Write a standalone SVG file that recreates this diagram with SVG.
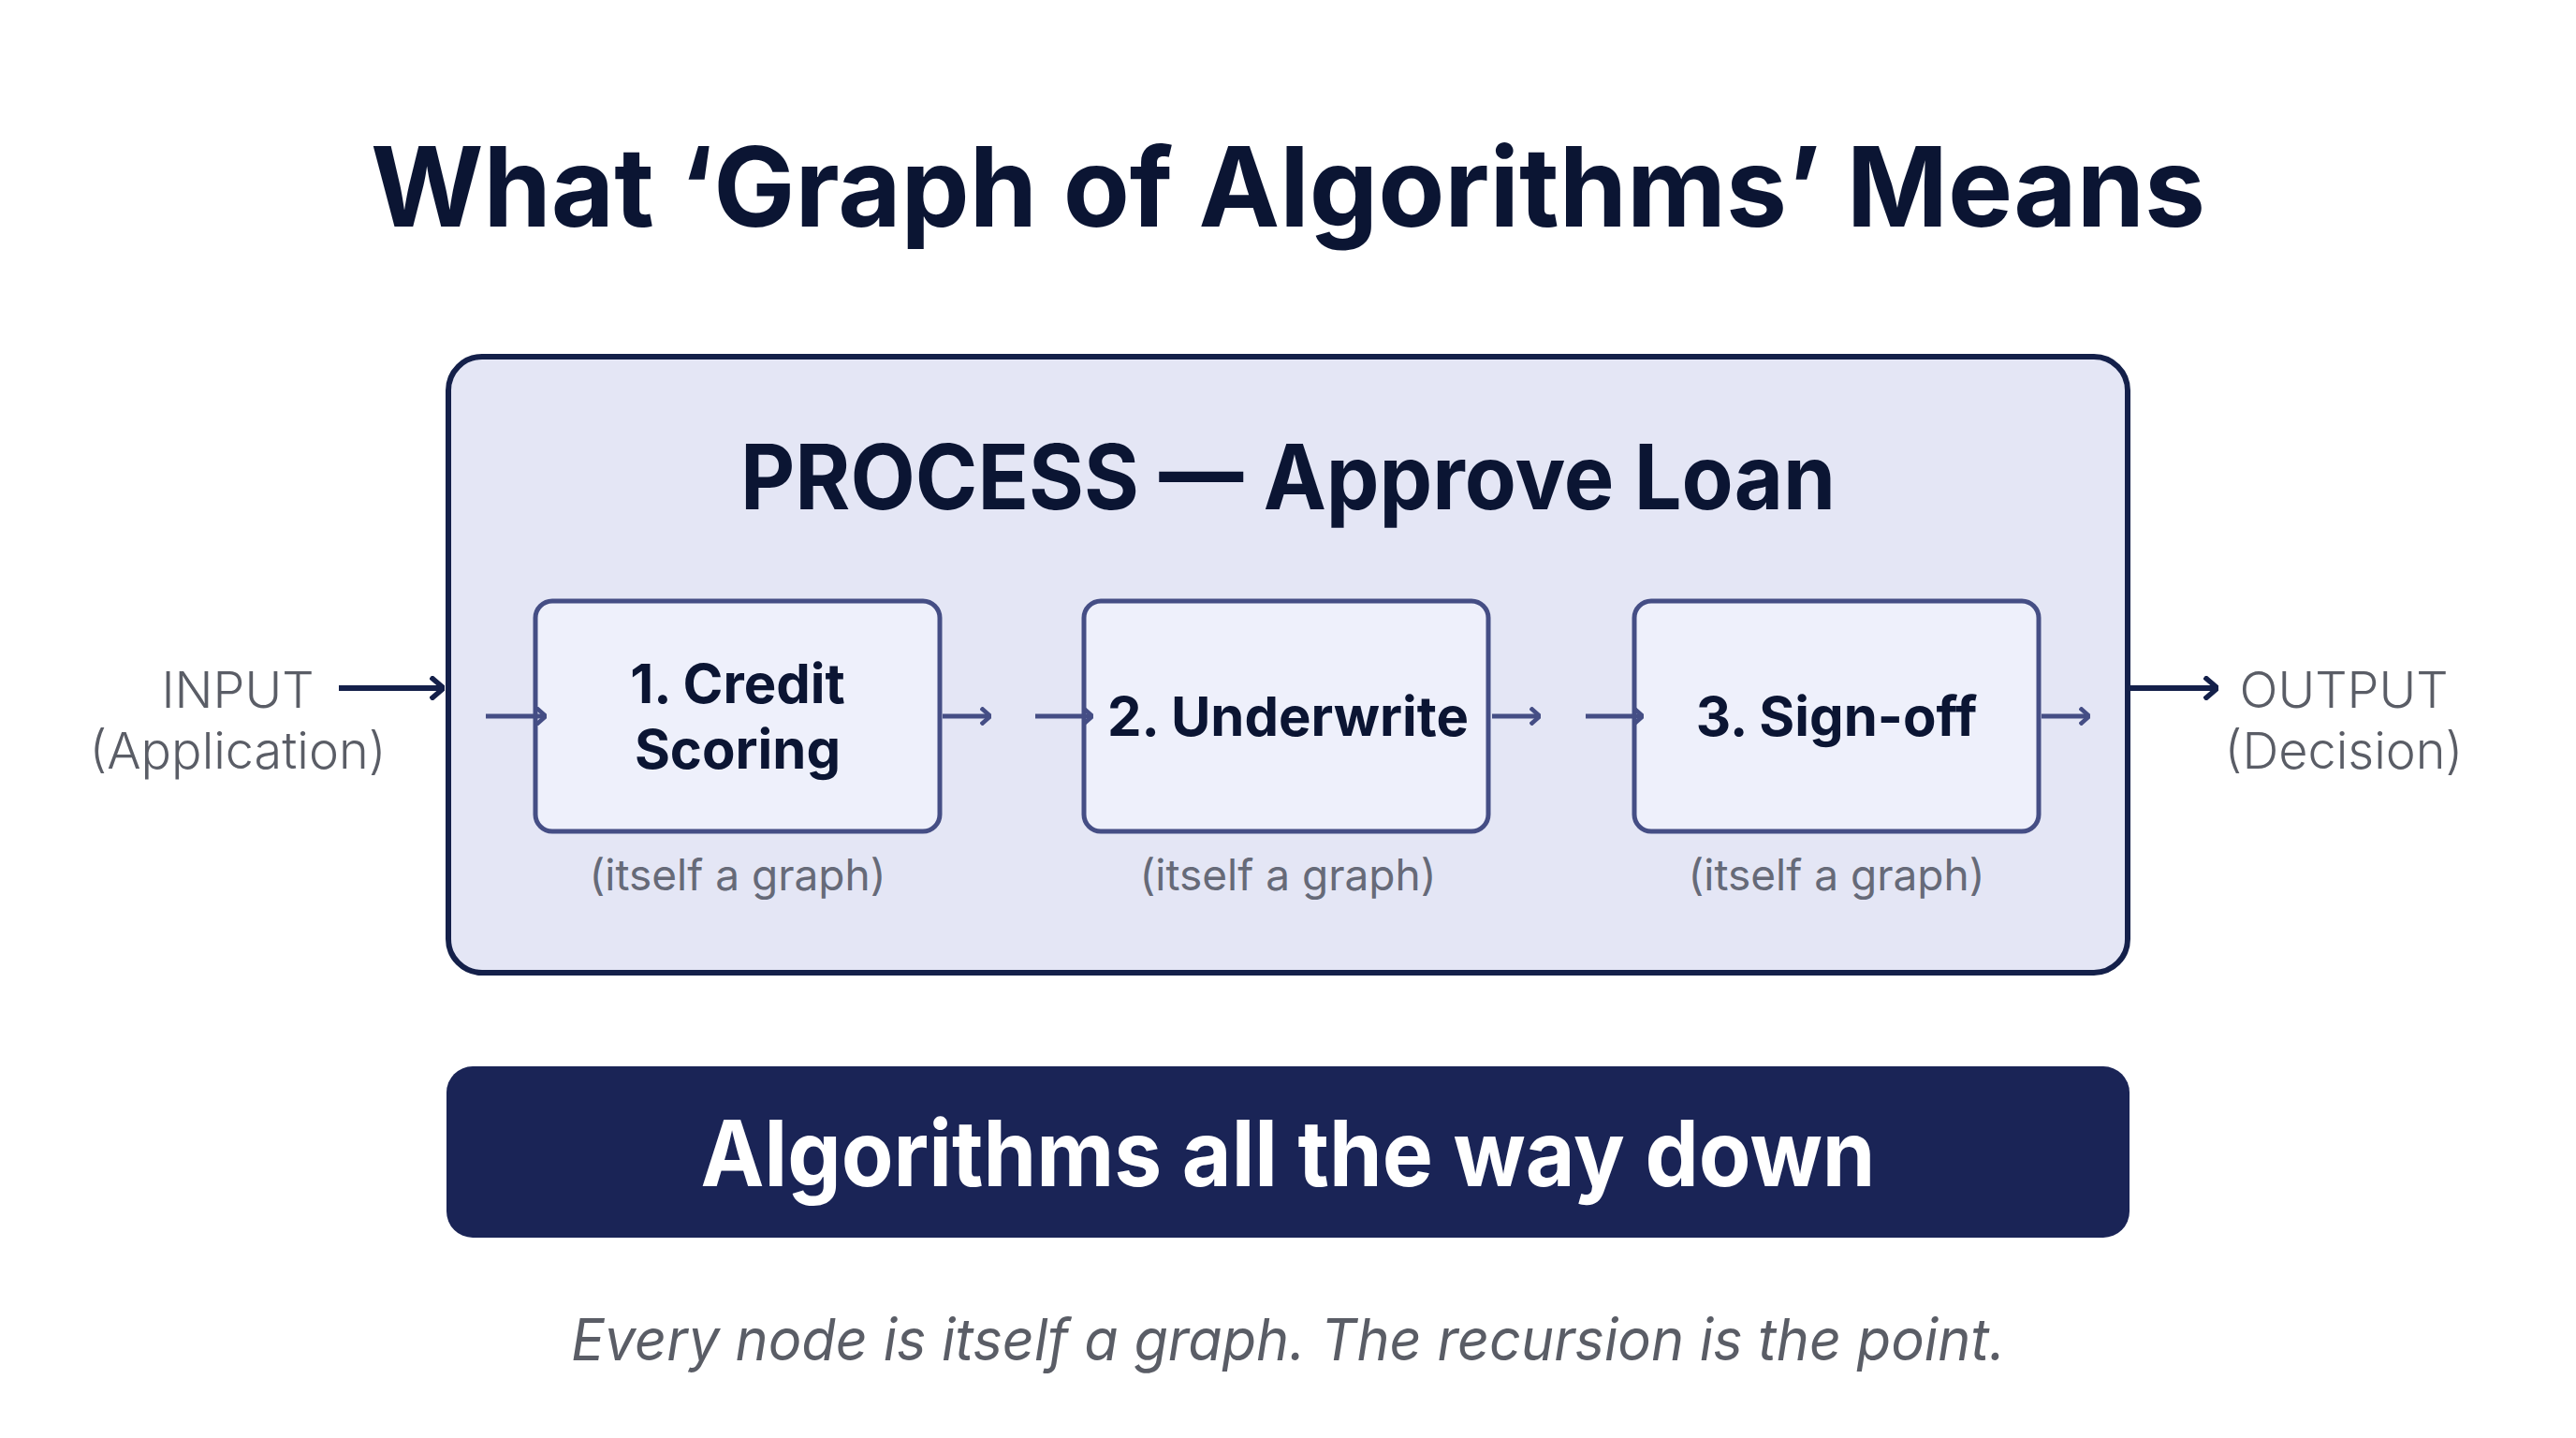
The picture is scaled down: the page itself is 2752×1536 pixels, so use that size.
<svg xmlns="http://www.w3.org/2000/svg" width="2752" height="1536" viewBox="0 0 2752 1536">
<defs>
<style>
.t{font-family:Inter,"Liberation Sans",sans-serif;text-anchor:middle}
.b{font-weight:700;fill:#0b1533}
.node rect{fill:#eef0fb;stroke:#454e85;stroke-width:5}
.sub{font-size:46px;fill:#666a78}
.side{font-size:54px;fill:#5a5d66;font-weight:300}
.sa{stroke:#454e85;stroke-width:5;fill:none}
.ba{stroke:#14204a;stroke-width:6;fill:none}
</style>
<marker id="ms" viewBox="0 0 12 20" markerWidth="12" markerHeight="20" refX="11" refY="10" markerUnits="userSpaceOnUse" orient="auto"><path d="M1,1 L11,10 L1,19" fill="none" stroke="#454e85" stroke-width="4.5"/></marker>
<marker id="mb" viewBox="0 0 16 26" markerWidth="16" markerHeight="26" refX="15" refY="13" markerUnits="userSpaceOnUse" orient="auto"><path d="M1,1 L15,13 L1,25" fill="none" stroke="#14204a" stroke-width="5.5"/></marker>
</defs>
<rect width="2752" height="1536" fill="#ffffff"/>
<text class="t b" x="1376" y="242" font-size="118" textLength="1960" lengthAdjust="spacingAndGlyphs">What ‘Graph of Algorithms’ Means</text>
<g id="process">
<rect x="479" y="381" width="1794" height="658" rx="36" fill="#e4e6f5" stroke="#14204a" stroke-width="6"/>
<text class="t b" x="1376" y="544" font-size="96" textLength="1170" lengthAdjust="spacingAndGlyphs">PROCESS — Approve Loan</text>
</g>
<g id="n1" class="node"><rect x="572" y="642" width="432" height="246" rx="18"/>
<text class="t b" x="788" y="751" font-size="58">1. Credit</text><text class="t b" x="788" y="821" font-size="58">Scoring</text>
<text class="t sub" x="788" y="951">(itself a graph)</text></g>
<g id="n2" class="node"><rect x="1158" y="642" width="432" height="246" rx="18"/>
<text class="t b" x="1376" y="786" font-size="58">2. Underwrite</text>
<text class="t sub" x="1376" y="951">(itself a graph)</text></g>
<g id="n3" class="node"><rect x="1746" y="642" width="432" height="246" rx="18"/>
<text class="t b" x="1962" y="786" font-size="58">3. Sign-off</text>
<text class="t sub" x="1962" y="951">(itself a graph)</text></g>
<g id="input"><text class="t side" x="254" y="756">INPUT</text><text class="t side" x="254" y="821">(Application)</text></g>
<g id="output"><text class="t side" x="2504" y="756">OUTPUT</text><text class="t side" x="2504" y="821">(Decision)</text></g>
<g id="connectors">
<line class="ba" x1="362" y1="735" x2="474" y2="735" marker-end="url(#mb)"/>
<line class="ba" x1="2276" y1="735" x2="2369" y2="735" marker-end="url(#mb)"/>
<line class="sa" x1="519" y1="765" x2="583" y2="765" marker-end="url(#ms)"/>
<line class="sa" x1="1007" y1="765" x2="1058" y2="765" marker-end="url(#ms)"/>
<line class="sa" x1="1106" y1="765" x2="1167" y2="765" marker-end="url(#ms)"/>
<line class="sa" x1="1594" y1="765" x2="1645" y2="765" marker-end="url(#ms)"/>
<line class="sa" x1="1694" y1="765" x2="1755" y2="765" marker-end="url(#ms)"/>
<line class="sa" x1="2181" y1="765" x2="2232" y2="765" marker-end="url(#ms)"/>
</g>
<g id="banner">
<rect x="477" y="1139" width="1798" height="183" rx="28" fill="#1a2456"/>
<text class="t" x="1376" y="1267" font-size="98" font-weight="700" fill="#ffffff" textLength="1255" lengthAdjust="spacingAndGlyphs">Algorithms all the way down</text>
</g>
<text class="t" x="1376" y="1453" font-size="62" font-style="italic" fill="#5a5d66" textLength="1532" lengthAdjust="spacingAndGlyphs">Every node is itself a graph. The recursion is the point.</text>
</svg>
